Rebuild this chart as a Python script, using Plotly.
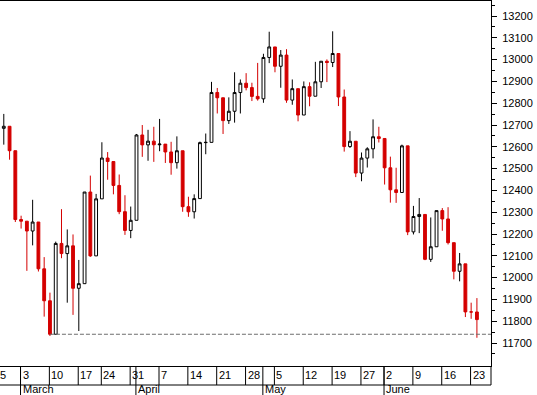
import numpy as np
import plotly.graph_objects as go

# ---------------- data ----------------
dates = [
    "2008-02-27", "2008-02-28", "2008-02-29",
    "2008-03-03", "2008-03-04", "2008-03-05", "2008-03-06", "2008-03-07",
    "2008-03-10", "2008-03-11", "2008-03-12", "2008-03-13", "2008-03-14",
    "2008-03-17", "2008-03-18", "2008-03-19", "2008-03-20",
    "2008-03-24", "2008-03-25", "2008-03-26", "2008-03-27", "2008-03-28",
    "2008-03-31", "2008-04-01", "2008-04-02", "2008-04-03", "2008-04-04",
    "2008-04-07", "2008-04-08", "2008-04-09", "2008-04-10", "2008-04-11",
    "2008-04-14", "2008-04-15", "2008-04-16", "2008-04-17", "2008-04-18",
    "2008-04-21", "2008-04-22", "2008-04-23", "2008-04-24", "2008-04-25",
    "2008-04-28", "2008-04-29", "2008-04-30", "2008-05-01", "2008-05-02",
    "2008-05-05", "2008-05-06", "2008-05-07", "2008-05-08", "2008-05-09",
    "2008-05-12", "2008-05-13", "2008-05-14", "2008-05-15", "2008-05-16",
    "2008-05-19", "2008-05-20", "2008-05-21", "2008-05-22", "2008-05-23",
    "2008-05-27", "2008-05-28", "2008-05-29", "2008-05-30",
    "2008-06-02", "2008-06-03", "2008-06-04", "2008-06-05", "2008-06-06",
    "2008-06-09", "2008-06-10", "2008-06-11", "2008-06-12", "2008-06-13",
    "2008-06-16", "2008-06-17", "2008-06-18", "2008-06-19", "2008-06-20",
    "2008-06-23", "2008-06-24",
]
holidays = ["2008-03-21", "2008-05-26"]

opens = [
    12684.92, 12694.28, 12582.18,
    12266.39, 12258.90, 12213.80, 12254.99, 12040.39,
    11893.69, 11740.15, 12156.81, 12110.24, 12145.74,
    11951.09, 11972.25, 12392.66, 12099.66,
    12361.32, 12548.64, 12532.60, 12422.86, 12302.46,
    12216.40, 12262.89, 12654.36, 12608.92, 12626.03,
    12609.42, 12612.43, 12576.44, 12527.26, 12581.98,
    12325.42, 12302.06, 12362.47, 12619.27, 12620.49,
    12849.36, 12825.02, 12720.23, 12763.22, 12848.95,
    12891.86, 12871.75, 12831.45, 12820.13, 13010.00,
    13058.20, 12969.54, 13020.83, 12814.35, 12866.78,
    12745.88, 12876.05, 12832.18, 12898.38, 12992.66,
    12986.80, 13028.16, 12828.68, 12601.19, 12625.62,
    12479.63, 12548.35, 12590.78, 12646.22,
    12638.32, 12503.82, 12402.85, 12390.48, 12604.45,
    12209.81, 12280.32, 12289.76, 12083.77, 12141.58,
    12307.35, 12269.08, 12160.30, 12029.06, 12063.09,
    11842.69, 11842.36,
]
highs = [
    12751, 12694.28, 12582.18,
    12284, 12258.90, 12357, 12254.99, 12094,
    11931, 12165, 12314, 12221, 12198,
    12081, 12392.66, 12468, 12384,
    12621, 12576, 12532.60, 12473, 12378,
    12326, 12659, 12700, 12678, 12692,
    12728, 12612.43, 12623, 12648, 12581.98,
    12371, 12382, 12624, 12661, 12898,
    12870, 12825.02, 12827, 12942, 12909,
    12938, 12894, 12985, 13027, 13128,
    13058.20, 13044, 13048, 12909, 12866.78,
    12900, 12896, 12990, 12992.66, 13001,
    13130, 13028.16, 12863, 12672, 12625.62,
    12574, 12598, 12726, 12692,
    12638.32, 12555, 12504, 12610, 12604.45,
    12329, 12365, 12289.76, 12276, 12307.35,
    12319, 12323, 12160.30, 12113, 12063.09,
    11885, 11906,
]
lows = [
    12610, 12541, 12255,
    12225, 12031, 12148, 12028, 11821,
    11732, 11740.15, 12089, 11885, 11829,
    11755, 11972.25, 12095, 12099.66,
    12361.32, 12449, 12382, 12291, 12196,
    12181, 12262.89, 12554, 12536, 12531,
    12580, 12526, 12472, 12500, 12302,
    12279, 12271, 12362.47, 12566, 12620.49,
    12753, 12659, 12705, 12711, 12753,
    12859, 12810, 12812, 12802, 12984,
    12942, 12871, 12802, 12793, 12717,
    12745.88, 12786, 12832.18, 12870, 12897,
    12966, 12787, 12578, 12595, 12461,
    12442, 12505, 12547, 12620,
    12427, 12344, 12343, 12390.48, 12195,
    12198, 12204, 12080, 12072, 12141.58,
    12215, 12152, 11992, 11983, 11819,
    11811, 11724,
]
closes = [
    12694.28, 12582.18, 12266.39,
    12258.90, 12213.80, 12254.99, 12040.39, 11893.69,
    11740.15, 12156.81, 12110.24, 12145.74, 11951.09,
    11972.25, 12392.66, 12099.66, 12361.32,
    12548.64, 12532.60, 12422.86, 12302.46, 12216.40,
    12262.89, 12654.36, 12608.92, 12626.03, 12609.42,
    12612.43, 12576.44, 12527.26, 12581.98, 12325.42,
    12302.06, 12362.47, 12619.27, 12620.49, 12849.36,
    12825.02, 12720.23, 12763.22, 12848.95, 12891.86,
    12871.75, 12831.45, 12820.13, 13010.00, 13058.20,
    12969.54, 13020.83, 12814.35, 12866.78, 12745.88,
    12876.05, 12832.18, 12898.38, 12992.66, 12986.80,
    13028.16, 12828.68, 12601.19, 12625.62, 12479.63,
    12548.35, 12590.78, 12646.22, 12638.32,
    12503.82, 12402.85, 12390.48, 12604.45, 12209.81,
    12280.32, 12289.76, 12083.77, 12141.58, 12307.35,
    12269.08, 12160.30, 12029.06, 12063.09, 11842.69,
    11842.36, 11807.43,
]

price_ticks = [11700, 11800, 11900, 12000, 12100, 12200, 12300, 12400,
               12500, 12600, 12700, 12800, 12900, 13000, 13100, 13200]

week_dates = ["2008-02-25", "2008-03-03", "2008-03-10", "2008-03-17", "2008-03-24",
              "2008-03-31", "2008-04-07", "2008-04-14", "2008-04-21", "2008-04-28",
              "2008-05-05", "2008-05-12", "2008-05-19", "2008-05-27", "2008-06-02",
              "2008-06-09", "2008-06-16", "2008-06-23"]
week_labels = ["25", "3", "10", "17", "24", "31", "7", "14", "21", "28",
               "5", "12", "19", "27", "2", "9", "16", "23"]
month_dates = ["2008-03-03", "2008-04-01", "2008-05-01", "2008-06-02"]
month_labels = ["March", "April", "May", "June"]
support_date = "2008-03-10"

# ---------------- geometry ----------------
W, H = 537, 395
ML, MR, MT, MB = 0, 46, 1, 29
PW, PH = W - ML - MR, H - MT - MB
X0, X1 = -0.657, 84.44
Y0, Y1 = 11594.5, 13269
FONT = "Liberation Sans, Arial, sans-serif"
RED = "#d40000"


def tidx(d):
    return int(np.busday_count(dates[0], d, holidays=holidays))


def xpaper(i):
    return (i - X0) / (X1 - X0)


def ypaper(py):
    # py: pixel from top of page
    return (H - MB - py) / PH


xs = [tidx(d) for d in dates]

fig = go.Figure()
fig.add_trace(go.Candlestick(
    x=xs, open=opens, high=highs, low=lows, close=closes,
    increasing=dict(fillcolor="white", line=dict(color="black", width=1)),
    decreasing=dict(fillcolor=RED, line=dict(color=RED, width=1)),
    whiskerwidth=0, showlegend=False, hoverinfo="skip",
))

si = dates.index(support_date)
fig.add_trace(go.Scatter(
    x=[xs[si], X1], y=[closes[si], closes[si]], mode="lines",
    line=dict(color="#6e6e6e", width=1, dash="4px,2px"),
    showlegend=False, hoverinfo="skip",
))

# minor ticks halfway between labelled ticks (incl. below / above)
minor_vals = [v - 50 for v in price_ticks] + [price_ticks[-1] + 50]

shapes = []
annotations = []
row1_top, row1_bot, row2_bot = 366, 385, 396
for d, lab in zip(week_dates, week_labels):
    xi = tidx(d) - 0.1
    shapes.append(dict(type="line", xref="paper", yref="paper",
                       x0=xpaper(xi), x1=xpaper(xi),
                       y0=ypaper(row1_top), y1=ypaper(row1_bot),
                       line=dict(color="black", width=1)))
    annotations.append(dict(xref="paper", yref="paper", x=xpaper(xi), y=ypaper(375),
                            text=lab, showarrow=False, xanchor="left", yanchor="middle",
                            font=dict(family=FONT, size=11, color="black")))
for d, lab in zip(month_dates, month_labels):
    xi = tidx(d) - 0.1
    shapes.append(dict(type="line", xref="paper", yref="paper",
                       x0=xpaper(xi), x1=xpaper(xi),
                       y0=ypaper(row1_top), y1=ypaper(row2_bot),
                       line=dict(color="black", width=1)))
    annotations.append(dict(xref="paper", yref="paper", x=xpaper(xi), y=ypaper(389.5),
                            text=lab, showarrow=False, xanchor="left", yanchor="middle",
                            font=dict(family=FONT, size=11, color="black")))
# divider between date row and month row
shapes.append(dict(type="line", xref="paper", yref="paper", x0=-0.01, x1=1,
                   y0=ypaper(row1_bot), y1=ypaper(row1_bot),
                   line=dict(color="black", width=1)))
# right closing line of the date rows
shapes.append(dict(type="line", xref="paper", yref="paper", x0=1, x1=1,
                   y0=ypaper(row1_top), y1=ypaper(row1_bot),
                   line=dict(color="black", width=1)))

fig.update_layout(
    width=W, height=H,
    margin=dict(l=ML, r=MR, t=MT, b=MB, pad=0),
    paper_bgcolor="white", plot_bgcolor="white",
    boxgap=0.3,
    showlegend=False,
    shapes=shapes, annotations=annotations,
    font=dict(family=FONT, size=11, color="black"),
    xaxis=dict(range=[X0, X1], showgrid=False, zeroline=False, showticklabels=False,
               ticks="", showline=True, linecolor="black", linewidth=1, mirror=True,
               rangeslider=dict(visible=False), fixedrange=True),
    yaxis=dict(range=[Y0, Y1], side="right", showgrid=False, zeroline=False,
               showline=True, linecolor="black", linewidth=1,
               ticks="outside", ticklen=5, tickwidth=1, tickcolor="black",
               tickmode="array", tickvals=price_ticks,
               ticktext=[str(v) for v in price_ticks], ticklabelstandoff=3,
               tickfont=dict(family=FONT, size=11, color="black"),
               minor=dict(tickmode="array", tickvals=minor_vals, ticks="outside",
                          ticklen=3, tickwidth=1, tickcolor="black"),
               fixedrange=True),
)

fig.write_html(
    "out.html",
    include_plotlyjs=True,
    config={"displayModeBar": False, "staticPlot": True},
    post_script="document.body.style.margin='0';document.body.style.padding='0';",
)
